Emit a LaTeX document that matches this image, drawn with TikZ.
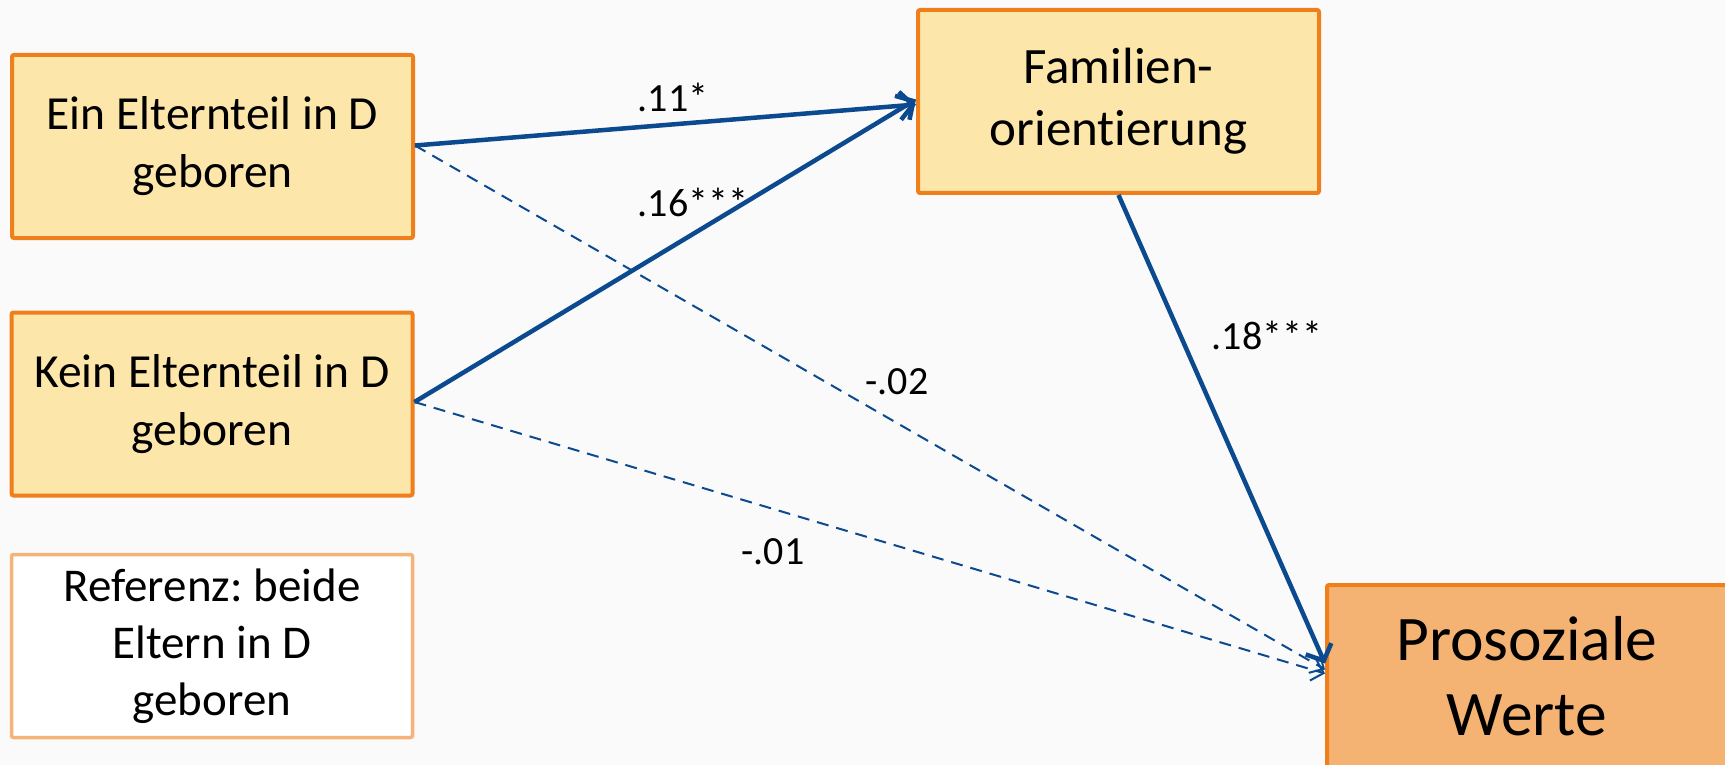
\documentclass[tikz,border=0pt]{standalone}
\usepackage{fontspec}
\setmainfont{Carlito}[RawFeature={-liga;-clig;-dlig;-calt;-rlig}]
\usetikzlibrary{arrows.meta,calc}
\frenchspacing
\definecolor{bgc}{HTML}{FAFAFB}
\definecolor{boxfill}{HTML}{FDE6AA}
\definecolor{boxline}{HTML}{EE7F1B}
\definecolor{profill}{HTML}{F4B273}
\definecolor{refline}{HTML}{F5B37A}
\definecolor{arrowc}{HTML}{0B4A8F}
\tikzset{
  varbox/.style={draw=boxline, fill=boxfill, line width=4pt, rounded corners=2pt,
    minimum width=401pt, minimum height=183pt, align=center, inner sep=0pt,
    font=\fontsize{47.5}{58}\selectfont},
  refbox/.style={varbox, draw=refline, fill=white, line width=3.5pt,
    font=\fontsize{47}{57}\selectfont},
  probox/.style={varbox, fill=profill, minimum width=400pt,
    font=\fontsize{63.5}{75}\selectfont},
  solidarrow/.style={draw=arrowc, line width=4.5pt,
    -{Straight Barb[length=13pt,width=28pt]}},
  dasharrow/.style={draw=arrowc, line width=2pt, dash pattern=on 12pt off 8pt,
    -{Straight Barb[length=11pt,width=22pt]}},
  coef/.style={font=\fontsize{40}{48}\selectfont, inner sep=0pt}
}
\begin{document}
\begin{tikzpicture}[x=1pt,y=-1pt]
\useasboundingbox (0,0) rectangle (1725,765);
\clip (0,0) rectangle (1725,765);
\fill[bgc] (0,0) rectangle (1725,765);

\node[varbox] (ein) at (212.5,146.5) {Ein Elternteil in D\\geboren};
\node[varbox] (kein) at (212,404) {Kein Elternteil in D\\geboren};
\node[refbox] (ref) at (212,646) {Referenz: beide\\Eltern in D\\geboren};
\node[varbox, font=\fontsize{51}{62}\selectfont] (fam) at (1118.5,101.5) {Familien-\\orientierung};
\node[probox] (pro) at (1527,676.5) {Prosoziale\\Werte};

\draw[dasharrow] ([yshift=1pt]ein.east) -- ([yshift=7pt]pro.west);
\draw[dasharrow] ([yshift=2pt]kein.east) -- ([yshift=3pt]pro.west);
\draw[solidarrow] ([yshift=1pt]ein.east) -- ([yshift=-3pt]fam.west);
\draw[solidarrow] ([yshift=2pt]kein.east) -- ([yshift=2pt]fam.west);
\draw[solidarrow] (fam.south) -- ([yshift=13pt]pro.west);

\node[coef] (c1) at (673,97) {.11*};
\node[coef] (c2) at (693,202) {.16***};
\node[coef] (c3) at (897,382) {-.02};
\node[coef] (c4) at (773,552) {-.01};
\node[coef] (c5) at (1267,335) {.18***};
\end{tikzpicture}
\end{document}
